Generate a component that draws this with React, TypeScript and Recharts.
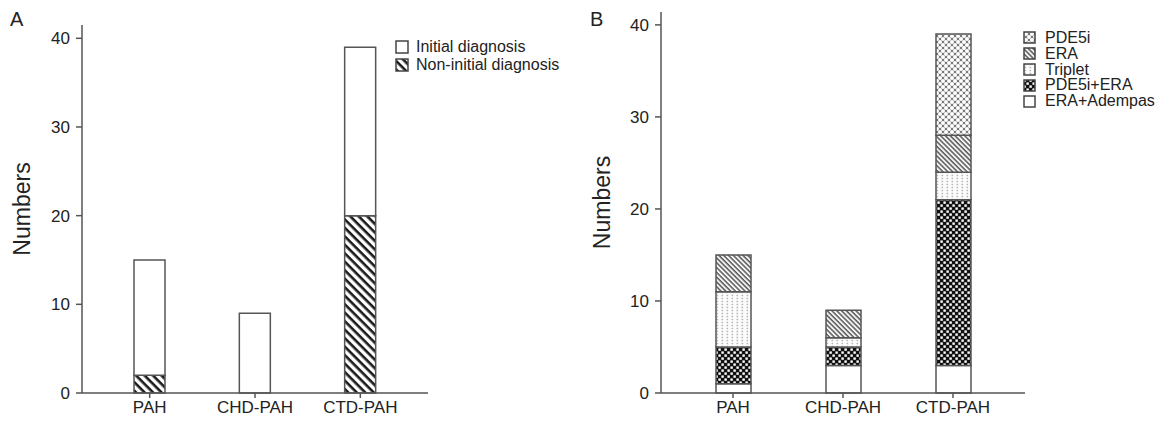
import React from "react";
import { BarChart, Bar, XAxis, YAxis, Legend } from "recharts";

// ---------- data ----------
const categories = ["PAH", "CHD-PAH", "CTD-PAH"];

// Panel A
const initialDiagnosis = [13, 9, 19];
const nonInitialDiagnosis = [2, 0, 20];

// Panel B
const pde5i = [0, 0, 11];
const era = [4, 3, 4];
const triplet = [6, 1, 3];
const pde5iEra = [4, 2, 18];
const eraAdempas = [1, 3, 3];

const yTicks = [0, 10, 20, 30, 40];

const dataA = categories.map((name, i) => ({
  name,
  initial: initialDiagnosis[i],
  nonInitial: nonInitialDiagnosis[i],
}));

const dataB = categories.map((name, i) => ({
  name,
  pde5i: pde5i[i],
  era: era[i],
  triplet: triplet[i],
  pde5iEra: pde5iEra[i],
  eraAdempas: eraAdempas[i],
}));

// legend entries (top to bottom)
const legendA = [
  { name: "Initial diagnosis", fill: "#ffffff" },
  { name: "Non-initial diagnosis", fill: "url(#patStripeA)" },
];
const legendB = [
  { name: "PDE5i", fill: "url(#patPde5i)" },
  { name: "ERA", fill: "url(#patEra)" },
  { name: "Triplet", fill: "url(#patTriplet)" },
  { name: "PDE5i+ERA", fill: "url(#patChecker)" },
  { name: "ERA+Adempas", fill: "#ffffff" },
];

const FONT = '"Liberation Sans", Arial, Helvetica, sans-serif';
const AXIS = "#555";
const TEXT = "#222";
const BAR_STROKE = "#555";

const Patterns = () => (
  <svg width={0} height={0} style={{ position: "absolute" }}>
    <defs>
      <pattern id="patStripeA" patternUnits="userSpaceOnUse" width={6} height={6} patternTransform="rotate(45)">
        <rect x={0} y={0} width={6} height={6} fill="#fff" />
        <rect x={0} y={0} width={6} height={2.6} fill="#1a1a1a" />
      </pattern>
      <pattern id="patEra" patternUnits="userSpaceOnUse" width={3.4} height={3.4} patternTransform="rotate(45)">
        <rect x={0} y={0} width={3.4} height={3.4} fill="#f4f4f4" />
        <rect x={0} y={0} width={3.4} height={1.5} fill="#5a5a5a" />
      </pattern>
      <pattern id="patTriplet" patternUnits="userSpaceOnUse" width={5} height={3}>
        <rect x={0} y={0} width={5} height={3} fill="#fcfcfc" />
        <rect x={1.5} y={0.8} width={1.6} height={1.4} fill="#b5b5b5" />
      </pattern>
      <pattern id="patChecker" patternUnits="userSpaceOnUse" width={6} height={6}>
        <rect x={0} y={0} width={6} height={6} fill="#111" />
        <rect x={0.4} y={0.4} width={2.4} height={2.4} fill="#fff" />
        <rect x={3.4} y={3.4} width={2.4} height={2.4} fill="#fff" />
      </pattern>
      <pattern id="patPde5i" patternUnits="userSpaceOnUse" width={6} height={6}>
        <rect x={0} y={0} width={6} height={6} fill="#7a7a7a" />
        <circle cx={0} cy={0} r={2} fill="#fff" />
        <circle cx={6} cy={0} r={2} fill="#fff" />
        <circle cx={0} cy={6} r={2} fill="#fff" />
        <circle cx={6} cy={6} r={2} fill="#fff" />
        <circle cx={3} cy={3} r={2} fill="#fff" />
      </pattern>
    </defs>
  </svg>
);

const makeLegend = (items: { name: string; fill: string }[], size: number, rowH: number, fontSize: number, gap: number) => () => (
  <div style={{ fontFamily: FONT, fontSize, color: TEXT, lineHeight: 1 }}>
    {items.map((it) => (
      <div key={it.name} style={{ display: "flex", alignItems: "center", height: rowH, whiteSpace: "nowrap" }}>
        <svg width={size + 2} height={size + 2} style={{ display: "block" }}>
          <rect x={1} y={1} width={size} height={size} fill={it.fill} stroke="#444" strokeWidth={1.5} />
        </svg>
        <span style={{ marginLeft: gap }}>{it.name}</span>
      </div>
    ))}
  </div>
);

const yLabel = (cx: number) => (props: any) => {
  const vb = props.viewBox || {};
  const cy = vb.y + vb.height / 2;
  return (
    <text
      x={cx}
      y={cy}
      transform={`rotate(-90, ${cx}, ${cy})`}
      textAnchor="middle"
      dominantBaseline="central"
      fill={TEXT}
      fontSize={23}
      fontFamily={FONT}
    >
      Numbers
    </text>
  );
};

const tickStyle = { fill: TEXT, fontSize: 17, fontFamily: FONT };

export default function App() {
  return (
    <div style={{ position: "absolute", left: 0, top: 0, width: 1161, height: 425, background: "#fff", fontFamily: FONT }}>
      <Patterns />
      <div style={{ position: "absolute", left: 10, top: 8, fontSize: 20, color: TEXT, fontFamily: FONT }}>A</div>
      <div style={{ position: "absolute", left: 590, top: 8, fontSize: 20, color: TEXT, fontFamily: FONT }}>B</div>

      <div style={{ position: "absolute", left: 0, top: 0 }}>
        <BarChart width={580} height={425} data={dataA} margin={{ top: 25, right: 152, bottom: 0, left: 0 }}>
          <XAxis
            dataKey="name"
            height={32}
            padding={{ left: 15, right: 15 }}
            tickSize={5}
            tickMargin={3}
            axisLine={{ stroke: AXIS, strokeWidth: 1.5 }}
            tickLine={{ stroke: AXIS, strokeWidth: 1.5 }}
            tick={tickStyle}
          />
          <YAxis
            width={82}
            domain={[0, 41.5]}
            ticks={yTicks}
            tickSize={6}
            tickMargin={6}
            axisLine={{ stroke: AXIS, strokeWidth: 1.5 }}
            tickLine={{ stroke: AXIS, strokeWidth: 1.5 }}
            tick={tickStyle}
            label={yLabel(22)}
          />
          <Legend
            layout="vertical"
            align="center"
            verticalAlign="middle"
            wrapperStyle={{ left: 395, top: 38 }}
            content={makeLegend(legendA, 12, 18, 16, 7)}
          />
          <Bar dataKey="nonInitial" name="Non-initial diagnosis" stackId="a" barSize={31} fill="url(#patStripeA)" stroke={BAR_STROKE} strokeWidth={1.5} isAnimationActive={false} />
          <Bar dataKey="initial" name="Initial diagnosis" stackId="a" barSize={31} fill="#ffffff" stroke={BAR_STROKE} strokeWidth={1.5} isAnimationActive={false} />
        </BarChart>
      </div>

      <div style={{ position: "absolute", left: 580, top: 0 }}>
        <BarChart width={581} height={425} data={dataB} margin={{ top: 12, right: 136, bottom: 0, left: 0 }}>
          <XAxis
            dataKey="name"
            height={32}
            padding={{ left: 17, right: 17 }}
            tickSize={5}
            tickMargin={3}
            axisLine={{ stroke: AXIS, strokeWidth: 1.5 }}
            tickLine={{ stroke: AXIS, strokeWidth: 1.5 }}
            tick={tickStyle}
          />
          <YAxis
            width={81}
            domain={[0, 41.4]}
            ticks={yTicks}
            tickSize={6}
            tickMargin={6}
            axisLine={{ stroke: AXIS, strokeWidth: 1.5 }}
            tickLine={{ stroke: AXIS, strokeWidth: 1.5 }}
            tick={tickStyle}
            label={yLabel(22)}
          />
          <Legend
            layout="vertical"
            align="center"
            verticalAlign="middle"
            wrapperStyle={{ left: 443, top: 30 }}
            content={makeLegend(legendB, 11, 15.8, 16, 9)}
          />
          <Bar dataKey="eraAdempas" name="ERA+Adempas" stackId="b" barSize={35} fill="#ffffff" stroke={BAR_STROKE} strokeWidth={1.5} isAnimationActive={false} />
          <Bar dataKey="pde5iEra" name="PDE5i+ERA" stackId="b" barSize={35} fill="url(#patChecker)" stroke={BAR_STROKE} strokeWidth={1.5} isAnimationActive={false} />
          <Bar dataKey="triplet" name="Triplet" stackId="b" barSize={35} fill="url(#patTriplet)" stroke={BAR_STROKE} strokeWidth={1.5} isAnimationActive={false} />
          <Bar dataKey="era" name="ERA" stackId="b" barSize={35} fill="url(#patEra)" stroke={BAR_STROKE} strokeWidth={1.5} isAnimationActive={false} />
          <Bar dataKey="pde5i" name="PDE5i" stackId="b" barSize={35} fill="url(#patPde5i)" stroke={BAR_STROKE} strokeWidth={1.5} isAnimationActive={false} />
        </BarChart>
      </div>
    </div>
  );
}
